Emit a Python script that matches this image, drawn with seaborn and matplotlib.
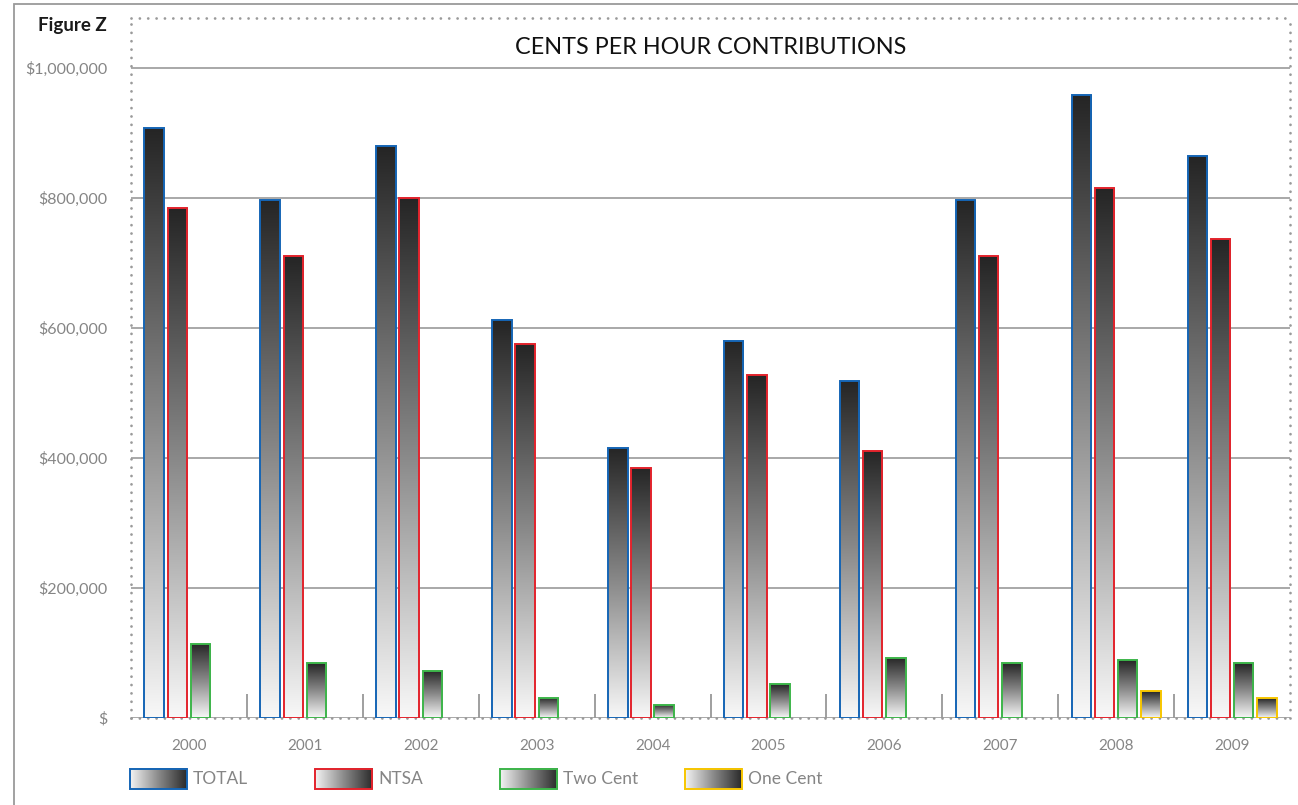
import numpy as np
import pandas as pd
import matplotlib
matplotlib.use("Agg")
import matplotlib.pyplot as plt
from matplotlib.patches import Rectangle
from matplotlib.colors import LinearSegmentedColormap
from matplotlib.ticker import FixedLocator
import seaborn as sns

# ── data ──────────────────────────────────────────────────
years     = ["2000", "2001", "2002", "2003", "2004", "2005", "2006", "2007", "2008", "2009"]
total     = [907000, 797000, 880000, 612000, 416000, 580000, 518000, 797000, 959000, 864000]
ntsa      = [785000, 711000, 800000, 575000, 385000, 527000, 411000, 710000, 816000, 737000]
two_cent  = [114000, 84000, 73000, 31000, 20000, 52000, 93000, 84000, 89000, 84000]
one_cent  = [None, None, None, None, None, None, None, None, 41000, 30000]
series    = ["TOTAL", "NTSA", "Two Cent", "One Cent"]
edge_cols = ["#1565b5", "#e3232c", "#3db54a", "#f7c600"]
yticks    = [0, 200000, 400000, 600000, 800000, 1000000]
ylabels   = ["$", "$200,000", "$400,000", "$600,000", "$800,000", "$1,000,000"]

rows = []
for name, vals in zip(series, [total, ntsa, two_cent, one_cent]):
    for yr, v in zip(years, vals):
        if v is not None:
            rows.append({"year": yr, "series": name, "value": v})
df = pd.DataFrame(rows)

# ── style ─────────────────────────────────────────────────
sns.set_style("white")
plt.rcParams["font.family"] = ["Lato", "DejaVu Sans"]
GREY = "#858585"
W, H = 1298, 805

fig = plt.figure(figsize=(W / 100, H / 100), dpi=100)
ax = fig.add_axes([131 / W, 1 - 718 / H, (1290 - 131) / W, (718 - 18) / H])

sns.barplot(data=df, x="year", y="value", hue="series", order=years,
            hue_order=series, palette=edge_cols, saturation=1, width=0.8, gap=0.16,
            legend=False, ax=ax, zorder=3)

# vertical gradient inside every bar: dark on top, near white at the base
grad_cmap = LinearSegmentedColormap.from_list("g", ["#252525", "#8a8a8a", "#f8f8f8"])
grad = np.linspace(0, 1, 256).reshape(-1, 1)
for p in list(ax.patches):
    h = p.get_height()
    if not np.isfinite(h) or h <= 0:
        continue
    ec = p.get_facecolor()
    p.set_facecolor("none")
    p.set_edgecolor(ec)
    p.set_linewidth(1.4)
    x0, w = p.get_x(), p.get_width()
    im = ax.imshow(grad, extent=[x0, x0 + w, 0, h], aspect="auto",
                   cmap=grad_cmap, origin="upper", zorder=2.5,
                   interpolation="bilinear")
    im.set_clip_path(p)

ax.set_xlim(-0.5, 9.5)
ax.set_ylim(0, 1076900)
ax.set_yticks(yticks)
ax.set_yticklabels(ylabels)
ax.set_xlabel(""); ax.set_ylabel("")
ax.yaxis.grid(True, color="#9a9a9a", lw=1.2, zorder=0)
ax.set_axisbelow(True)
ax.tick_params(axis="y", length=0, pad=17, labelsize=11.5, labelcolor=GREY)
ax.tick_params(axis="x", which="major", length=0, pad=15, labelsize=11, labelcolor=GREY)
ax.xaxis.set_minor_locator(FixedLocator(np.arange(0.5, 9, 1)))
ax.tick_params(axis="x", which="minor", direction="in", length=17, width=1.1,
               color=GREY, bottom=True)
for s in ax.spines.values():
    s.set_visible(True)
    s.set_linestyle((0, (0.01, 3)))
    s.set_capstyle("round")
    s.set_linewidth(2)
    s.set_color("#9a9a9a")

ax.text(0.5, (718 - 47) / 700, "CENTS PER HOUR CONTRIBUTIONS", transform=ax.transAxes,
        ha="center", va="center", fontsize=16.8, color="#111111")
fig.text(38 / W, 1 - 25 / H, "Figure Z", ha="left", va="center",
         fontsize=13.5, fontweight="bold", color="#1a1a1a")

# outer frame
fig.patches.append(Rectangle((14 / W, -0.05), 1.1, 1.05 - 4 / H, transform=fig.transFigure,
                             fill=False, edgecolor="#9a9a9a", lw=1.3))

# ── legend ────────────────────────────────────────────────
lax = fig.add_axes([129 / W, 1 - 790 / H, 780 / W, 22 / H])
hgrad = np.linspace(0, 1, 256).reshape(1, -1)
leg_cmap = LinearSegmentedColormap.from_list("l", ["#f4f4f4", "#8a8a8a", "#2a2a2a"])
for i, (name, col) in enumerate(zip(series, edge_cols)):
    x0 = i * 185
    lax.imshow(hgrad, extent=[x0 + 1, x0 + 58, 1, 21], aspect="auto", cmap=leg_cmap)
    lax.add_patch(Rectangle((x0 + 1, 1), 57, 20, fill=False, edgecolor=col, lw=1.4))
    lax.text(x0 + 64, 11, name, ha="left", va="center", fontsize=12.5, color=GREY)
lax.set_xlim(0, 780); lax.set_ylim(0, 22); lax.axis("off")

fig.savefig("out.png", dpi=100)
